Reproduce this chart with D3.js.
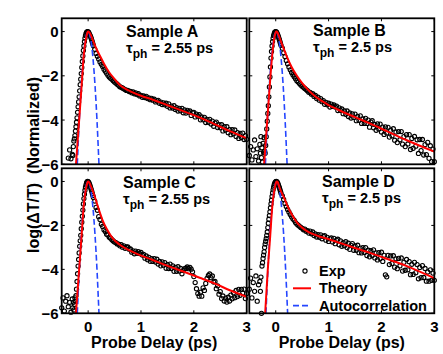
<!DOCTYPE html>
<html>
<head>
<meta charset="utf-8">
<script src="https://cdn.jsdelivr.net/npm/d3@7"></script>
<style>
  body { margin: 0; background: #fff; }
  svg text { font-family: "Liberation Sans", Arial, Helvetica, sans-serif; font-weight: bold; fill: #000; }
</style>
</head>
<body>
<svg id="chart" width="443" height="354"></svg>
<script>
// probe delays (ps) shared by all four measurements
var delays = [
  -0.5, -0.475, -0.45, -0.425, -0.4, -0.375, -0.35, -0.325, -0.3,
  -0.29, -0.28, -0.27, -0.26, -0.25, -0.24, -0.23, -0.22, -0.21, -0.2,
  -0.19, -0.18, -0.17, -0.16, -0.15, -0.14, -0.13, -0.12, -0.11, -0.1,
  -0.09, -0.08, -0.07, -0.06, -0.05, -0.04, -0.03, -0.02, -0.01, 0,
  0.01, 0.02, 0.03, 0.04, 0.05, 0.06, 0.07, 0.08, 0.09, 0.1,
  0.125, 0.15, 0.175, 0.2,
  0.225, 0.25, 0.275, 0.3, 0.325, 0.35, 0.375, 0.4,
  0.425, 0.45, 0.475, 0.5, 0.525, 0.55, 0.575, 0.6,
  0.625, 0.65, 0.675, 0.7, 0.725, 0.75, 0.775, 0.8,
  0.825, 0.85, 0.875, 0.9, 0.925, 0.95, 0.975, 1.0,
  1.025, 1.05, 1.075, 1.1, 1.125, 1.15, 1.175, 1.2,
  1.225, 1.25, 1.275, 1.3, 1.325, 1.35, 1.375, 1.4,
  1.425, 1.45, 1.475, 1.5, 1.525, 1.55, 1.575, 1.6,
  1.625, 1.65, 1.675, 1.7, 1.725, 1.75, 1.775, 1.8,
  1.825, 1.85, 1.875, 1.9, 1.925, 1.95, 1.975, 2.0,
  2.025, 2.05, 2.075, 2.1, 2.125, 2.15, 2.175, 2.2,
  2.225, 2.25, 2.275, 2.3, 2.325, 2.35, 2.375, 2.4,
  2.425, 2.45, 2.475, 2.5, 2.525, 2.55, 2.575, 2.6,
  2.625, 2.65, 2.675, 2.7, 2.725, 2.75, 2.775, 2.8,
  2.825, 2.85, 2.875, 2.9, 2.925, 2.95, 2.975, 3.0
];

// measured log(dT/T), one value per delay (null = off the plot)
var expA = [
  null, null, null, null, null, -5.72, -5.35, -5.75, -5.55,
  -5.6, -5.2, -4.95, -4.85, -4.7, -4.5, -4.3, -4.1, -3.9, -3.65,
  -3.4, -3.18, -2.95, -2.68, -2.4, -2.15, -1.9, -1.62, -1.35, -1.1,
  -0.85, -0.65, -0.45, -0.3, -0.18, -0.09, -0.04, -0.01, 0, -0.01,
  -0.04, -0.09, -0.15, -0.2, -0.25, -0.32, -0.4, -0.48, -0.56, -0.64,
  -0.80, -0.99, -1.12, -1.24,
  -1.37, -1.48, -1.58, -1.70, -1.79, -1.88, -1.97, -2.05,
  -2.11, -2.16, -2.22, -2.28, -2.33, -2.38, -2.43, -2.49,
  -2.52, -2.55, -2.59, -2.62, -2.66, -2.66, -2.71, -2.71,
  -2.77, -2.73, -2.81, -2.77, -2.85, -2.81, -2.91, -2.88,
  -2.97, -2.91, -2.98, -2.93, -3.03, -3.00, -3.08, -3.02,
  -3.10, -3.06, -3.18, -3.13, -3.11, -3.24, -3.19, -3.30,
  -3.22, -3.31, -3.24, -3.38, -3.27, -3.45, -3.37, -3.46,
  -3.35, -3.52, -3.44, -3.59, -3.47, -3.58, -3.47, -3.67,
  -3.54, -3.68, -3.56, -3.64, -3.59, -3.79, -3.67, -3.65,
  -3.86, -3.73, -3.82, -3.76, -3.99, -3.86, -3.99, -3.88,
  -4.11, -3.97, -4.10, -3.97, -4.18, -4.05, -4.28, -4.14,
  -4.09, -4.34, -4.21, -4.35, -4.21, -4.49, -4.30, -4.45,
  -4.30, -4.57, -4.43, -4.66, -4.43, -4.62, -4.45, -4.74,
  -4.57, -4.83, -4.60, -4.79, -4.59, -4.88, -4.71, -4.87
];
var expB = [
  -5.6, -5.2, -5.8, -5.35, -4.9, -5.65, -5.3, -5.85, -5.1,
  -5.5, -4.75, -5.7, -5.25, -5.9, -5.05, -5.45, -4.8, -5.4, -5.5,
  -5.15, -4.75, -4.4, -4.05, -3.7, -3.35, -2.95, -2.5, -2.05, -1.6,
  -1.2, -0.9, -0.65, -0.45, -0.3, -0.18, -0.1, -0.04, -0.01, 0,
  -0.01, -0.05, -0.1, -0.16, -0.23, -0.3, -0.38, -0.46, -0.54, -0.62,
  -0.75, -0.96, -1.13, -1.31,
  -1.46, -1.60, -1.73, -1.85, -1.95, -2.04, -2.13, -2.22,
  -2.28, -2.35, -2.41, -2.47, -2.52, -2.57, -2.62, -2.67,
  -2.74, -2.75, -2.83, -2.81, -2.93, -2.89, -3.03, -2.97,
  -3.10, -3.03, -3.17, -3.12, -3.29, -3.20, -3.31, -3.24,
  -3.41, -3.28, -3.38, -3.32, -3.41, -3.37, -3.57, -3.45,
  -3.56, -3.50, -3.71, -3.59, -3.74, -3.59, -3.84, -3.68,
  -3.91, -3.72, -3.88, -3.73, -4.03, -3.83, -4.01, -3.81,
  -4.15, -3.95, -4.15, -3.92, -4.15, -4.00, -4.32, -4.09,
  -4.03, -4.35, -4.20, -4.46, -4.17, -4.40, -4.18, -4.54,
  -4.32, -4.65, -4.31, -4.58, -4.33, -4.77, -4.46, -4.71,
  -4.39, -4.91, -4.54, -5.02, -4.52, -4.89, -4.52, -5.09,
  -4.75, -5.20, -4.66, -5.08, -4.66, -5.33, -4.83, -5.28,
  -4.74, -5.18, -4.89, -5.51, -4.88, -5.38, -4.88, -5.58,
  -5.11, -5.56, -5.01, -5.73, -5.16, -5.88, -5.31, -5.88
];
var expC = [
  -5.75, -5.3, -5.9, -5.45, -5.2, -5.7, -5.5, -5.95, -5.35,
  -5.75, -5.5, -5.85, -5.6, -5.3, -5.45, -5.2, -4.9, -4.55, -4.2,
  -3.85, -3.55, -3.25, -2.95, -2.7, -2.45, -2.15, -1.85, -1.58, -1.3,
  -1.02, -0.78, -0.58, -0.4, -0.26, -0.15, -0.07, -0.02, 0, -0.01,
  -0.04, -0.09, -0.15, -0.22, -0.3, -0.38, -0.46, -0.55, -0.64, -0.73,
  -0.89, -1.18, -1.31, -1.60,
  -1.73, -1.95, -2.05, -2.20, -2.28, -2.40, -2.44, -2.54,
  -2.58, -2.65, -2.71, -2.76, -2.78, -2.84, -2.85, -2.93,
  -2.88, -2.99, -2.93, -3.04, -2.98, -2.98, -3.08, -3.07,
  -3.22, -3.16, -3.29, -3.17, -3.27, -3.19, -3.28, -3.23,
  -3.35, -3.32, -3.49, -3.39, -3.56, -3.45, -3.63, -3.51,
  -3.64, -3.51, -3.67, -3.54, -3.76, -3.64, -3.84, -3.66,
  -3.81, -3.69, -3.95, -3.79, -3.96, -3.76, -3.96, -3.84,
  -4.09, -3.91, -4.09, -3.88, -4.08, -3.96, -4.20, -4.05,
  -3.97, -3.95, -3.89, -3.97, -3.91, -3.99, -4.11, -4.33,
  -4.60, -4.88, -5.10, -5.22, -5.04, -5.22, -4.84, -4.96,
  -4.64, -4.41, -4.28, -4.21, -4.38, -4.30, -4.58, -4.55,
  -4.88, -4.75, -5.13, -5.01, -5.33, -5.21, -5.44, -5.31,
  -5.49, -5.27, -5.44, -5.17, -5.34, -5.07, -5.29, -4.96,
  -5.24, -4.91, -5.18, -4.91, -5.08, -4.90, -5.33, -5.10
];
var expD = [
  -4.9, -4.4, -5.3, -4.6, -5.0, -4.3, -5.45, -4.7, -4.55,
  -5.0, -4.35, -6.0, -3.85, -3.7, -3.5, -3.35, -3.2, -3.0, -2.85,
  -2.72, -2.6, -2.45, -2.3, -2.1, -1.9, -1.72, -1.55, -1.38, -1.2,
  -1.02, -0.85, -0.68, -0.52, -0.38, -0.26, -0.16, -0.09, -0.04, -0.01,
  0, -0.01, -0.04, -0.09, -0.15, -0.22, -0.29, -0.37, -0.45, -0.53,
  -0.66, -0.82, -1.00, -1.14,
  -1.27, -1.39, -1.50, -1.61, -1.70, -1.77, -1.87, -1.94,
  -1.99, -2.04, -2.09, -2.13, -2.20, -2.17, -2.27, -2.24,
  -2.35, -2.26, -2.38, -2.30, -2.46, -2.39, -2.53, -2.42,
  -2.54, -2.43, -2.61, -2.50, -2.47, -2.67, -2.54, -2.73,
  -2.61, -2.57, -2.75, -2.59, -2.83, -2.67, -2.63, -2.88,
  -2.70, -2.95, -2.78, -2.92, -2.74, -3.01, -2.81, -3.09,
  -2.91, -2.83, -3.13, -2.93, -3.13, -2.90, -3.24, -3.03,
  -3.25, -3.01, -3.23, -3.01, -3.37, -3.13, -3.43, -3.15,
  -3.37, -3.11, -3.48, -3.25, -3.57, -3.24, -3.51, -3.22,
  -3.64, -3.36, -4.25, -4.34, -3.36, -3.78, -3.39, -3.73,
  -3.38, -3.90, -3.52, -3.97, -3.50, -3.84, -3.48, -4.08,
  -3.68, -4.04, -3.55, -4.02, -3.65, -4.24, -3.77, -4.23,
  -3.68, -4.15, -3.78, -4.43, -3.91, -4.38, -3.83, -4.37,
  -3.96, -4.54, -4.12, -4.54, -4.02, -4.50, -4.17, -4.50
];

// theory curves
var theoryA_t = [-0.23, -0.17, -0.125, -0.08, -0.05, -0.03, -0.015, 0, 0.02, 0.05, 0.1, 0.16, 0.22, 0.3, 0.4, 0.5, 0.6, 0.7, 0.8, 1.0, 1.2, 1.5, 1.75, 2.0, 2.3, 2.68, 3.0];
var theoryA_v = [-6, -4.0, -2.5, -1.0, -0.45, -0.2, -0.05, 0, -0.03, -0.15, -0.45, -0.8, -1.08, -1.45, -1.85, -2.15, -2.42, -2.58, -2.7, -2.9, -3.06, -3.33, -3.55, -3.78, -4.08, -4.5, -4.82];
var theoryB_t = [-0.22, -0.16, -0.115, -0.07, -0.04, -0.02, 0, 0.01, 0.03, 0.06, 0.1, 0.21, 0.3, 0.4, 0.5, 0.6, 0.7, 0.8, 0.9, 1.0, 1.15, 1.5, 1.78, 2.1, 2.47, 3.0];
var theoryB_v = [-6, -4.0, -2.5, -1.15, -0.5, -0.2, -0.04, 0, -0.03, -0.2, -0.45, -1.13, -1.6, -2.0, -2.33, -2.6, -2.83, -3.02, -3.18, -3.32, -3.5, -3.87, -4.15, -4.5, -4.9, -5.43];
var theoryC_t = [-0.23, -0.17, -0.125, -0.08, -0.05, -0.03, -0.015, 0, 0.02, 0.05, 0.1, 0.16, 0.22, 0.28, 0.35, 0.47, 0.6, 0.85, 1.2, 1.48, 1.8, 2.11, 2.4, 2.68, 3.0];
var theoryC_v = [-6, -4.0, -2.5, -1.0, -0.45, -0.2, -0.05, 0, -0.04, -0.2, -0.5, -0.95, -1.4, -1.8, -2.15, -2.6, -2.88, -3.22, -3.55, -3.82, -4.1, -4.38, -4.65, -4.95, -5.25];
var theoryD_t = [-0.2, -0.15, -0.105, -0.06, -0.03, -0.01, 0.005, 0.02, 0.04, 0.06, 0.1, 0.15, 0.21, 0.3, 0.4, 0.5, 0.59, 0.8, 1.03, 1.4, 1.78, 2.1, 2.48, 3.0];
var theoryD_v = [-6, -4.0, -2.5, -1.0, -0.45, -0.2, -0.05, 0, -0.04, -0.2, -0.45, -0.7, -1.05, -1.48, -1.86, -2.1, -2.26, -2.48, -2.65, -2.95, -3.25, -3.52, -3.85, -4.4];

// autocorrelation trace, relative to each sample's peak
var autoT = [-0.205, -0.17, -0.13, -0.09, -0.05, -0.02, 0, 0.02, 0.05, 0.09, 0.13, 0.17, 0.205];
var autoV = [-6, -4.13, -2.42, -1.16, -0.36, -0.06, 0, -0.06, -0.36, -1.16, -2.42, -4.13, -6];
var peakShift = [0, 0.01, 0, 0.02];

var sampleNames = ['Sample A', 'Sample B', 'Sample C', 'Sample D'];
var tauValues = ['2.55', '2.5', '2.55', '2.5'];
var xTicks = [0, 1, 2, 3];
var yTicks = [0, -2, -4, -6];
var legendLabels = ['Exp', 'Theory', 'Autocorrelation'];

var svg = d3.select('#chart');
var colX = [[61.7, 246.7], [249.3, 434.3]];
var rowY = [[164.3, 18.3], [313.3, 168.3]];
var titlePos = [[126, 313], [123, 322]];
var titleBase = [[37, 36], [188, 187]];

var exps = [expA, expB, expC, expD];
var theoryT = [theoryA_t, theoryB_t, theoryC_t, theoryD_t];
var theoryV = [theoryA_v, theoryB_v, theoryC_v, theoryD_v];

function drawPanel(i) {
    var col = i % 2;
    var row = Math.floor(i / 2);
    var x = d3.scaleLinear().domain([-0.5, 3]).range(colX[col]);
    var y = d3.scaleLinear().domain([-6, 0.6]).range(rowY[row]);
    var g = svg.append('g');

    var clipId = 'clip' + i;
    svg.append('clipPath').attr('id', clipId)
        .append('rect')
        .attr('x', x.range()[0]).attr('y', y.range()[1])
        .attr('width', x.range()[1] - x.range()[0])
        .attr('height', y.range()[0] - y.range()[1]);

    // experimental points
    var pts = [];
    for (var k = 0; k < delays.length; k++) {
        var v = exps[i][k];
        if (v !== null && v >= -6) {
            pts.push([delays[k], v]);
        }
    }
    g.selectAll('circle.exp')
        .data(pts)
        .enter()
        .append('circle')
        .attr('cx', function (d) { return x(d[0]); })
        .attr('cy', function (d) { return y(d[1]); })
        .attr('r', 2.1)
        .attr('fill', 'none')
        .attr('stroke', '#000')
        .attr('stroke-width', 1.1);

    var line = d3.line()
        .x(function (d) { return x(d[0]); })
        .y(function (d) { return y(d[1]); })
        .curve(d3.curveMonotoneX);

    // autocorrelation
    var auto = autoT.map(function (t, k) { return [t + peakShift[i], autoV[k]]; });
    g.append('path')
        .attr('d', line(auto))
        .attr('clip-path', 'url(#' + clipId + ')')
        .attr('fill', 'none')
        .attr('stroke', '#2546ff')
        .attr('stroke-width', 1.6)
        .attr('stroke-dasharray', '6,3');

    // theory
    var th = theoryT[i].map(function (t, k) { return [t, theoryV[i][k]]; });
    g.append('path')
        .attr('d', line(th))
        .attr('clip-path', 'url(#' + clipId + ')')
        .attr('fill', 'none')
        .attr('stroke', '#ff0000')
        .attr('stroke-width', 2);

    // inward ticks on all sides
    var tickLen = 3;
    xTicks.forEach(function (t) {
        g.append('line').attr('x1', x(t)).attr('x2', x(t))
            .attr('y1', y.range()[0]).attr('y2', y.range()[0] - tickLen)
            .attr('stroke', '#000').attr('stroke-width', 1);
        g.append('line').attr('x1', x(t)).attr('x2', x(t))
            .attr('y1', y.range()[1]).attr('y2', y.range()[1] + tickLen)
            .attr('stroke', '#000').attr('stroke-width', 1);
    });
    yTicks.forEach(function (t) {
        g.append('line').attr('x1', x.range()[0]).attr('x2', x.range()[0] + tickLen)
            .attr('y1', y(t)).attr('y2', y(t))
            .attr('stroke', '#000').attr('stroke-width', 1);
        g.append('line').attr('x1', x.range()[1]).attr('x2', x.range()[1] - tickLen)
            .attr('y1', y(t)).attr('y2', y(t))
            .attr('stroke', '#000').attr('stroke-width', 1);
    });

    // box
    g.append('rect')
        .attr('x', x.range()[0]).attr('y', y.range()[1])
        .attr('width', x.range()[1] - x.range()[0])
        .attr('height', y.range()[0] - y.range()[1])
        .attr('fill', 'none')
        .attr('stroke', '#000')
        .attr('stroke-width', 1.8);

    // tick labels
    if (col === 0) {
        g.selectAll('text.ytick')
            .data(yTicks)
            .enter()
            .append('text')
            .attr('x', x.range()[0] - 3)
            .attr('y', function (d) { return y(d) + 5.5; })
            .attr('text-anchor', 'end')
            .style('font-size', '15px')
            .text(function (d) { return d < 0 ? '\u2212' + (-d) : d; });
    }
    if (row === 1) {
        g.selectAll('text.xtick')
            .data(xTicks)
            .enter()
            .append('text')
            .attr('x', function (d) { return x(d); })
            .attr('y', 331.5)
            .attr('text-anchor', 'middle')
            .style('font-size', '15px')
            .text(function (d) { return d; });
        g.append('text')
            .attr('x', (x.range()[0] + x.range()[1]) / 2)
            .attr('y', 348)
            .attr('text-anchor', 'middle')
            .style('font-size', '16px')
            .text('Probe Delay (ps)');
    }

    // sample title and tau
    var tx = titlePos[row][col];
    var ty = titleBase[row][col];
    g.append('text')
        .attr('x', tx).attr('y', ty)
        .style('font-size', '16px')
        .text(sampleNames[i]);
    var tau = g.append('text')
        .attr('x', tx).attr('y', ty + 16)
        .style('font-size', '15px');
    tau.append('tspan').text('\u03c4');
    tau.append('tspan').attr('dy', 5).style('font-size', '12px').text('ph');
    tau.append('tspan').attr('dy', -5).style('font-size', '14.5px').text(' = ' + tauValues[i] + ' ps');
}

for (var p = 0; p < 4; p++) {
    drawPanel(p);
}

// y label
svg.append('text')
    .attr('transform', 'translate(39,165) rotate(-90)')
    .attr('text-anchor', 'middle')
    .style('font-size', '16px')
    .style('white-space', 'pre')
    .text('log(\u0394T/T)  (Normalized)');

// legend (bottom right panel)
var lg = svg.append('g');
var lx = 293, ly = 271, lstep = 17.3;
lg.append('circle').attr('cx', lx + 12).attr('cy', ly).attr('r', 2.1)
    .attr('fill', 'none').attr('stroke', '#000').attr('stroke-width', 1.1);
lg.append('line').attr('x1', lx).attr('x2', lx + 18)
    .attr('y1', ly + lstep).attr('y2', ly + lstep)
    .attr('stroke', '#ff0000').attr('stroke-width', 2);
lg.append('line').attr('x1', lx).attr('x2', lx + 18)
    .attr('y1', ly + 2 * lstep).attr('y2', ly + 2 * lstep)
    .attr('stroke', '#2546ff').attr('stroke-width', 1.6)
    .attr('stroke-dasharray', '6,3');
lg.selectAll('text')
    .data(legendLabels)
    .enter()
    .append('text')
    .attr('x', lx + 26)
    .attr('y', function (d, i) { return ly + 5 + i * lstep; })
    .style('font-size', '14.5px')
    .text(function (d) { return d; });
</script>
</body>
</html>
